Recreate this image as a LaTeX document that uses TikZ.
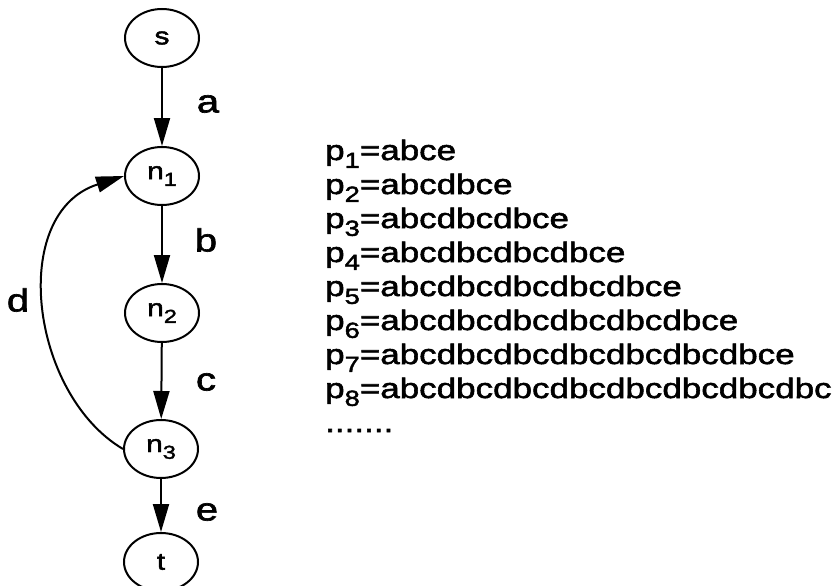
\documentclass[tikz,border=0pt]{standalone}
\usepackage{fontspec}
\setmainfont{Liberation Sans}[FakeStretch=1.25,FakeBold=2]
\usetikzlibrary{arrows.meta,shapes.geometric}
\newcommand{\lsub}[1]{\raisebox{-0.28em}{\scalebox{0.78}{#1}}}
\begin{document}
\begin{tikzpicture}[x=1pt,y=-1pt,
  st/.style={ellipse,draw,line width=2pt,minimum width=74pt,minimum height=58pt,inner sep=0pt,font=\fontsize{24}{24}\selectfont},
  arr/.style={line width=2pt,-{Triangle[length=28pt,width=16pt]}},
  elab/.style={font=\fontsize{32}{32}\selectfont,inner sep=0pt},
  pline/.style={anchor=base west,font=\fontsize{28}{28}\selectfont,inner sep=0pt}]
\fill[white] (0,0) rectangle (836,586);
\useasboundingbox (0,0) rectangle (836,586);
\node[st] (s) at (162,38) {s};
\node[st] (n1) at (162,176) {n\lsub{1}};
\node[st] (n2) at (162,313) {n\lsub{2}};
\node[st] (n3) at (161,449) {n\lsub{3}};
\node[st] (t) at (161,562) {t};
\draw[arr] (s) -- (n1);
\draw[arr] (n1) -- (n2);
\draw[arr] (n2) -- (n3);
\draw[arr] (n3) -- (t);
\draw[arr] (n3.west) .. controls (30,394) and (8,213) .. (n1.west);
\node[elab] (la) at (208,104) {a};
\node[elab] (lb) at (206,240) {b};
\node[elab] (lc) at (206,382) {c};
\node[elab] (ld) at (18,300) {d};
\node[elab] (le) at (207,512) {e};
\node[pline] (p1) at (325,160) {p\lsub{1}=abce};
\node[pline] (p2) at (325,194) {p\lsub{2}=abcdbce};
\node[pline] (p3) at (325,228) {p\lsub{3}=abcdbcdbce};
\node[pline] (p4) at (325,262) {p\lsub{4}=abcdbcdbcdbce};
\node[pline] (p5) at (325,296) {p\lsub{5}=abcdbcdbcdbcdbce};
\node[pline] (p6) at (325,330) {p\lsub{6}=abcdbcdbcdbcdbcdbce};
\node[pline] (p7) at (325,364) {p\lsub{7}=abcdbcdbcdbcdbcdbcdbce};
\node[pline] (p8) at (325,398) {p\lsub{8}=abcdbcdbcdbcdbcdbcdbcdbc};
\node[pline] (dots) at (325,432) {.......};
\end{tikzpicture}
\end{document}
